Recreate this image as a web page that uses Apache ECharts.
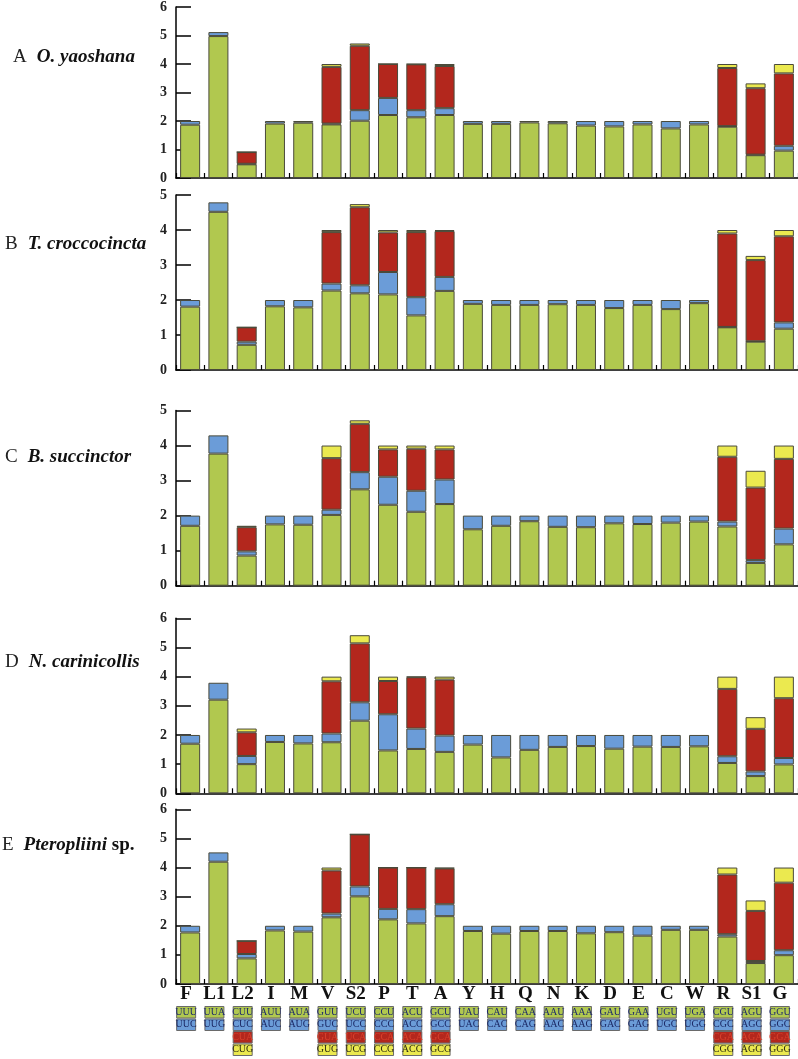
<!DOCTYPE html>
<html>
<head>
<meta charset="utf-8">
<script src="https://cdn.jsdelivr.net/npm/echarts@6/dist/echarts.min.js"></script>
<style>
html,body{margin:0;padding:0;background:#fff;}
#chart{width:798px;height:1059px;}
</style>
</head>
<body>
<div id="chart"></div>
<script>
const categories = ['F','L1','L2','I','M','V','S2','P','T','A','Y','H','Q','N','K','D','E','C','W','R','S1','G'];

const codonRow1 = ['UUU','UUA','CUU','AUU','AUA','GUU','UCU','CCU','ACU','GCU','UAU','CAU','CAA','AAU','AAA','GAU','GAA','UGU','UGA','CGU','AGU','GGU'];
const codonRow2 = ['UUC','UUG','CUC','AUC','AUG','GUC','UCC','CCC','ACC','GCC','UAC','CAC','CAG','AAC','AAG','GAC','GAG','UGC','UGG','CGC','AGC','GGC'];
const codonRow3 = ['','','CUA','','','GUA','UCA','CCA','ACA','GCA','','','','','','','','','','CGA','AGA','GGA'];
const codonRow4 = ['','','CUG','','','GUG','UCG','CCG','ACG','GCG','','','','','','','','','','CGG','AGG','GGG'];

const N = null;
// A  O. yaoshana
const aGreen  = [1.87,4.98,0.48,1.91,1.94,1.88,2.01,2.21,2.13,2.21,1.90,1.90,1.95,1.92,1.84,1.81,1.88,1.74,1.88,1.80,0.80,0.96];
const aBlue   = [0.13,0.14,0.02,0.09,0.06,0.03,0.37,0.60,0.25,0.24,0.10,0.10,0.05,0.08,0.16,0.19,0.12,0.26,0.12,0.02,0.02,0.17];
const aRed    = [N,N,0.41,N,N,1.99,2.26,1.19,1.61,1.48,N,N,N,N,N,N,N,N,N,2.04,2.33,2.54];
const aYellow = [N,N,0,N,N,0.10,0.08,0,0.01,0.07,N,N,N,N,N,N,N,N,N,0.14,0.17,0.33];
// B  T. croccocincta
const bGreen  = [1.81,4.52,0.72,1.82,1.79,2.27,2.19,2.16,1.56,2.26,1.89,1.86,1.86,1.88,1.86,1.77,1.86,1.74,1.91,1.22,0.81,1.18];
const bBlue   = [0.19,0.27,0.09,0.18,0.21,0.20,0.23,0.64,0.52,0.40,0.11,0.14,0.14,0.12,0.14,0.23,0.14,0.26,0.09,0.01,0.01,0.18];
const bRed    = [N,N,0.41,N,N,1.47,2.23,1.13,1.86,1.31,N,N,N,N,N,N,N,N,N,2.67,2.32,2.46];
const bYellow = [N,N,0,N,N,0.06,0.09,0.07,0.06,0.03,N,N,N,N,N,N,N,N,N,0.10,0.12,0.18];
// C  B. succinctor
const cGreen  = [1.71,3.77,0.86,1.75,1.74,2.02,2.75,2.31,2.11,2.33,1.61,1.71,1.84,1.68,1.67,1.78,1.76,1.80,1.83,1.69,0.65,1.18];
const cBlue   = [0.29,0.52,0.12,0.25,0.26,0.15,0.49,0.80,0.60,0.70,0.39,0.29,0.16,0.32,0.33,0.22,0.24,0.20,0.17,0.14,0.08,0.45];
const cRed    = [N,N,0.69,N,N,1.47,1.38,0.78,1.20,0.86,N,N,N,N,N,N,N,N,N,1.85,2.07,1.99];
const cYellow = [N,N,0.04,N,N,0.36,0.10,0.11,0.09,0.11,N,N,N,N,N,N,N,N,N,0.32,0.48,0.38];
// D  N. carinicollis
const dGreen  = [1.70,3.21,1.00,1.76,1.71,1.75,2.49,1.47,1.52,1.42,1.67,1.23,1.49,1.59,1.62,1.53,1.60,1.59,1.61,1.04,0.59,0.99];
const dBlue   = [0.30,0.58,0.28,0.24,0.29,0.30,0.63,1.24,0.70,0.56,0.33,0.77,0.51,0.41,0.38,0.47,0.40,0.41,0.39,0.23,0.16,0.22];
const dRed    = [N,N,0.81,N,N,1.79,2.02,1.14,1.76,1.92,N,N,N,N,N,N,N,N,N,2.31,1.46,2.05];
const dYellow = [N,N,0.13,N,N,0.16,0.28,0.15,0.02,0.10,N,N,N,N,N,N,N,N,N,0.42,0.40,0.74];
// E  Pteropliini sp.
const eGreen  = [1.77,4.20,0.88,1.84,1.80,2.29,3.01,2.22,2.08,2.33,1.82,1.73,1.82,1.82,1.74,1.78,1.66,1.86,1.86,1.63,0.72,0.99];
const eBlue   = [0.23,0.32,0.15,0.16,0.20,0.13,0.34,0.36,0.49,0.41,0.18,0.27,0.18,0.18,0.26,0.22,0.34,0.14,0.14,0.08,0.07,0.17];
const eRed    = [N,N,0.45,N,N,1.48,1.79,1.42,1.43,1.23,N,N,N,N,N,N,N,N,N,2.05,1.72,2.32];
const eYellow = [N,N,0,N,N,0.10,0,0,0,0.02,N,N,N,N,N,N,N,N,N,0.24,0.36,0.52];

const panelLetters = ['A','B','C','D','E'];
const panelNames = ['O. yaoshana','T. croccocincta','B. succinctor','N. carinicollis','Pteropliini'];
const panelSuffix = ['','','','',' sp.'];
const panelMax = [6,5,5,6,6];
const panelData = [
  [aGreen,aBlue,aRed,aYellow],
  [bGreen,bBlue,bRed,bYellow],
  [cGreen,cBlue,cRed,cYellow],
  [dGreen,dBlue,dRed,dYellow],
  [eGreen,eBlue,eRed,eYellow]
];

// layout (styles)
const panelTop = [2.7,195,410.5,618.3,809.3];
const panelHeight = [175.3,175,175.2,175,174.7];
const titleCenter = [57,244,457,662,845];
const titleLeft = [13,5,5,5,2];
const colors = ['#b1c84f','#6b9cd8','#b3271d','#ebe94f'];
const codonTextColors = ['#1f2b6a','#1c2a66','#d8402c','#2b2b10'];
const serif = '"Liberation Serif","DejaVu Serif",serif';

const grid = [], xAxis = [], yAxis = [], series = [], title = [];
for (let p = 0; p < 5; p++) {
  grid.push({left:176, right:0, top:panelTop[p], height:panelHeight[p]});
  xAxis.push({
    type:'category', gridIndex:p, data:categories,
    axisLine:{show:true, lineStyle:{color:'#000', width:1.5}},
    axisTick:{show:true, inside:true, length:5, lineStyle:{color:'#000', width:1.2}},
    axisLabel:{show:false}
  });
  yAxis.push({
    type:'value', gridIndex:p, min:0, max:panelMax[p], interval:1,
    axisLine:{show:true, lineStyle:{color:'#000', width:1.5}},
    axisTick:{show:true, inside:true, length:15, lineStyle:{color:'#000', width:1.5}},
    splitLine:{show:false},
    axisLabel:{fontFamily:serif, fontWeight:'bold', fontSize:14, color:'#222', margin:9}
  });
  for (let s = 0; s < 4; s++) {
    series.push({
      type:'bar', xAxisIndex:p, yAxisIndex:p, stack:'p'+p, barWidth:20,
      data:panelData[p][s],
      itemStyle:{color:colors[s], borderColor:'#4a4a3a', borderWidth:1},
      silent:true
    });
  }
  title.push({
    left:titleLeft[p], top:titleCenter[p]-9, padding:0,
    text:'{a|'+panelLetters[p]+'}  {b|'+panelNames[p]+'}' + (panelSuffix[p] ? '{c|'+panelSuffix[p]+'}' : ''),
    textStyle:{
      fontWeight:'normal',
      rich:{
        a:{fontFamily:serif, fontSize:19, fontWeight:'normal', color:'#222'},
        b:{fontFamily:serif, fontSize:19, fontWeight:'bold', fontStyle:'italic', color:'#111'},
        c:{fontFamily:serif, fontSize:19, fontWeight:'bold', color:'#111'}
      }
    }
  });
}

// codon legend grid
grid.push({left:172, right:4, top:1006, height:50});
xAxis.push({
  type:'category', gridIndex:5, data:categories, position:'top',
  axisLine:{show:false}, axisTick:{show:false},
  axisLabel:{fontFamily:serif, fontWeight:'bold', fontSize:19, color:'#111', margin:2, interval:0}
});
yAxis.push({type:'value', gridIndex:5, min:0, max:4, inverse:true, show:false});
const codonRows = [codonRow1, codonRow2, codonRow3, codonRow4];
codonRows.forEach((row, r) => {
  series.push({
    type:'bar', xAxisIndex:5, yAxisIndex:5, stack:'codon', barWidth:20,
    data: row.map(c => c ? {value:1, name:c} : null),
    itemStyle:{color:colors[r], borderColor:'#6a6a6a', borderWidth:1},
    label:{show:true, position:'inside', formatter:(d)=>row[d.dataIndex], fontFamily:serif, fontSize:10, color:codonTextColors[r]},
    silent:true
  });
});

const chart = echarts.init(document.getElementById('chart'), null, {renderer:'canvas'});
chart.setOption({animation:false, backgroundColor:'#fff', title, grid, xAxis, yAxis, series});
</script>
</body>
</html>
